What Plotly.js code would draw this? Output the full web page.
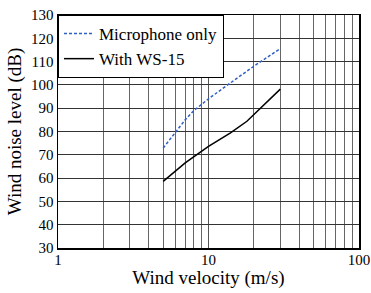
<!DOCTYPE html>
<html><head><meta charset="utf-8">
<script src="https://cdn.plot.ly/plotly-3.0.1.min.js"></script>
<style>html,body{margin:0;padding:0;background:#fff}#c{width:371px;height:293px}</style>
</head><body><div id="c"></div>
<script>
const velMic = [5, 6, 7, 8, 10, 13, 20, 30];
const micOnly = [72.9, 79.5, 85, 89, 94, 99.4, 108, 115.6];
const velWS = [5, 7, 10, 14, 18, 20, 30];
const withWS = [58.6, 66.5, 73.6, 79.4, 84.4, 87.2, 98.2];
const xTickVals = [1, 10, 100];
const xTickText = ['1', '10', '100'];

const serif = 'Liberation Serif, Times New Roman, serif';
const data = [
  {x: velMic, y: micOnly, name: 'Microphone only', mode: 'lines', type: 'scatter',
   line: {color: '#2f5fc4', width: 1.5, dash: '3px,2px'}},
  {x: velWS, y: withWS, name: 'With WS-15', mode: 'lines', type: 'scatter',
   line: {color: '#000', width: 1.5}}
];
const layout = {
  width: 371, height: 293,
  margin: {l: 58, r: 12, t: 15, b: 45},
  paper_bgcolor: '#fff', plot_bgcolor: '#fff',
  font: {family: serif, color: '#000', size: 15},
  showlegend: true,
  legend: {x: 0, y: 1, xanchor: 'left', yanchor: 'top', bgcolor: '#fff',
           bordercolor: '#000', borderwidth: 1, font: {size: 17, family: serif},
           tracegroupgap: 0, itemwidth: 30, valign: 'middle'},
  xaxis: {type: 'log', range: [0, 2], tickvals: xTickVals, ticktext: xTickText,
          showgrid: true, gridcolor: '#555', gridwidth: 1,
          minor: {dtick: 'D1', showgrid: true, gridcolor: '#666', gridwidth: 1, ticks: ''},
          showline: true, linecolor: '#000', linewidth: 1.5, mirror: true,
          ticks: '', zeroline: false, ticklabelstandoff: -3,
          title: {text: 'Wind velocity (m/s)', font: {size: 19, family: serif}, standoff: 2},
          tickfont: {size: 15, family: serif}},
  yaxis: {range: [30, 130], dtick: 10, showgrid: true, gridcolor: '#333', gridwidth: 1,
          showline: true, linecolor: '#000', linewidth: 1.5, mirror: true,
          ticks: '', zeroline: false,
          title: {text: 'Wind noise level (dB)', font: {size: 19, family: serif}, standoff: 4},
          tickfont: {size: 15, family: serif}}
};
Plotly.newPlot('c', data, layout, {displayModeBar: false, staticPlot: true});
</script></body></html>
